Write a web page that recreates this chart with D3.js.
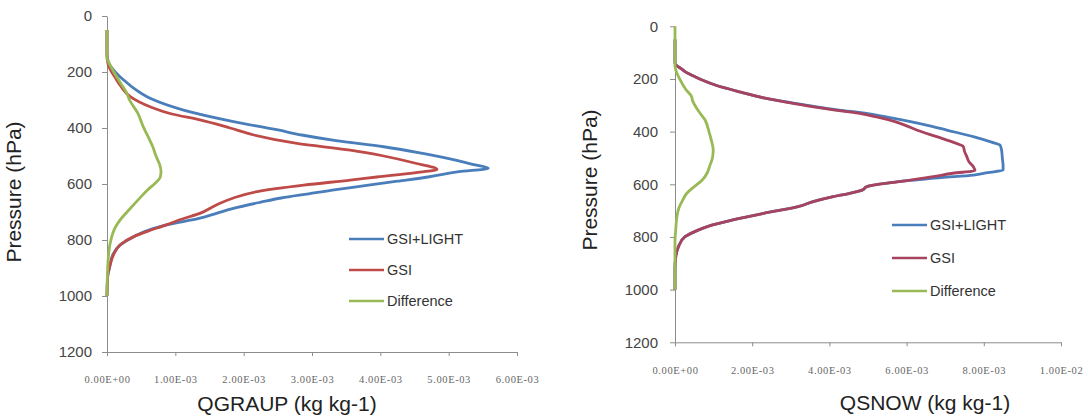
<!DOCTYPE html>
<html><head><meta charset="utf-8">
<script src="https://cdn.jsdelivr.net/npm/d3@7/dist/d3.min.js"></script>
<style>body{margin:0;background:#fff;} svg{display:block;}</style>
</head><body>
<svg id="c" width="1088" height="419"></svg>
<script>
// ---------- data ----------
const seriesNames = ["GSI+LIGHT", "GSI", "Difference"];
const pressureTicks = [0, 200, 400, 600, 800, 1000, 1200];
const graupTicks = [0, 0.001, 0.002, 0.003, 0.004, 0.005, 0.006];
const graupTickLabels = ["0.00E+00", "1.00E-03", "2.00E-03", "3.00E-03", "4.00E-03", "5.00E-03", "6.00E-03"];
const snowTicks = [0, 0.002, 0.004, 0.006, 0.008, 0.010];
const snowTickLabels = ["0.00E+00", "2.00E-03", "4.00E-03", "6.00E-03", "8.00E-03", "1.00E-02"];

// [pressure hPa, mixing ratio in 1e-3 kg/kg]
const graupLight = [[50,0],[130,0],[155,0.01],[175,0.04],[200,0.12],[217,0.19],[240,0.3],[258,0.39],[294,0.63],[336,1.12],[377,1.85],[407,2.5],[425,2.85],[445,3.35],[467,4.05],[490,4.6],[515,5.1],[530,5.35],[544,5.58],[556,5.15],[575,4.7],[590,4.25],[605,3.8],[620,3.35],[635,2.95],[650,2.55],[665,2.25],[687,1.85],[705,1.6],[722,1.36],[746,0.87],[770,0.55],[790,0.38],[818,0.19],[850,0.09],[895,0.04],[930,0.01],[1000,0]];
const graupGsi = [[50,0],[140,0],[165,0.01],[187,0.04],[220,0.12],[250,0.2],[288,0.34],[324,0.63],[350,0.95],[371,1.36],[400,1.8],[425,2.15],[455,2.78],[479,3.56],[500,4.05],[525,4.5],[548,4.83],[560,4.5],[575,3.95],[586,3.56],[604,2.88],[627,2.2],[650,1.85],[675,1.6],[705,1.36],[725,1.1],[746,0.87],[770,0.58],[788,0.39],[818,0.19],[850,0.1],[895,0.04],[930,0.01],[1000,0]];
const graupDiff = [[50,0],[130,0],[150,0],[163,0.02],[200,0.1],[240,0.2],[276,0.29],[300,0.33],[347,0.45],[395,0.53],[430,0.6],[467,0.67],[502,0.72],[530,0.77],[555,0.79],[575,0.78],[598,0.7],[620,0.6],[645,0.5],[690,0.33],[729,0.19],[760,0.11],[788,0.07],[820,0.04],[860,0.02],[900,0.01],[1000,0]];

const snowLight = [[50,0],[140,0],[150,0.05],[160,0.15],[172,0.26],[190,0.5],[205,0.72],[223,1.04],[250,1.7],[273,2.33],[290,3.0],[305,3.63],[318,4.25],[330,4.92],[345,5.5],[362,6.1],[378,6.6],[394,7.04],[420,7.75],[440,8.2],[451,8.42],[470,8.46],[500,8.48],[530,8.5],[546,8.5],[556,8.1],[565,7.73],[575,6.9],[590,5.8],[609,4.97],[622,4.85],[635,4.5],[647,4.1],[665,3.6],[685,3.19],[710,2.3],[736,1.47],[755,0.95],[774,0.6],[799,0.26],[837,0.09],[875,0.02],[920,0],[1000,0]];
const snowGsi = [[50,0],[140,0],[150,0.05],[160,0.15],[172,0.26],[190,0.5],[205,0.72],[223,1.04],[250,1.7],[273,2.33],[290,2.95],[305,3.55],[318,4.15],[330,4.75],[345,5.25],[362,5.7],[378,6.0],[394,6.26],[420,6.8],[440,7.2],[457,7.47],[475,7.5],[495,7.56],[515,7.62],[533,7.73],[548,7.77],[558,7.2],[571,6.69],[590,5.8],[609,4.97],[622,4.85],[635,4.5],[647,4.1],[665,3.6],[685,3.19],[710,2.3],[736,1.47],[755,0.95],[774,0.6],[799,0.26],[837,0.09],[875,0.02],[920,0],[1000,0]];
const snowDiff = [[0,0],[120,0],[150,0],[166,0.02],[200,0.12],[240,0.28],[267,0.43],[280,0.45],[320,0.6],[356,0.78],[400,0.88],[432,0.94],[470,0.99],[500,0.97],[530,0.9],[558,0.83],[585,0.7],[609,0.5],[635,0.3],[660,0.2],[690,0.1],[723,0.05],[770,0.02],[812,0],[1000,0]];

// ---------- drawing ----------
const svg = d3.select("#c");
const axisColor = "#8c8c8c";

const panels = [
  {x0:107, x1:517, y0:16, y1:352, xmax:0.006, xt:graupTicks, xl:graupTickLabels,
   series:[graupLight, graupGsi, graupDiff], colors:["#4a7ebb","#be4b48","#98b954"],
   title:"QGRAUP (kg kg-1)", titleX:287, titleY:411, ytX:21, ytY:192, labPad:10, xlabY:383,
   legX:349, legY:239, legDy:31},
  {x0:675, x1:1061, y0:26.3, y1:342.3, xmax:0.010, xt:snowTicks, xl:snowTickLabels,
   series:[snowLight, snowGsi, snowDiff], colors:["#4a7ebb","#a8435f","#98b954"],
   title:"QSNOW (kg kg-1)", titleX:925, titleY:410, ytX:597, ytY:180, labPad:12, xlabY:374,
   legX:892, legY:225, legDy:33}
];

panels.forEach(P => {
  const x = d3.scaleLinear().domain([0, P.xmax]).range([P.x0, P.x1]);
  const y = d3.scaleLinear().domain([0, 1200]).range([P.y0, P.y1]);
  const g = svg.append("g");

  // y axis
  const ya = g.append("g").attr("transform", `translate(${P.x0},0)`)
    .call(d3.axisLeft(y).tickValues(pressureTicks).tickFormat(d3.format("d"))
      .tickSize(5).tickSizeOuter(0).tickPadding(P.labPad));
  ya.select(".domain").attr("stroke", axisColor);
  ya.selectAll(".tick line").attr("stroke", axisColor);
  ya.selectAll(".tick text").attr("font-family", "Liberation Sans, Arial, sans-serif")
    .attr("font-size", 15).attr("fill", "#444");

  // x axis
  const xa = g.append("g").attr("transform", `translate(0,${P.y1})`)
    .call(d3.axisBottom(x).tickValues(P.xt).tickSize(4).tickSizeOuter(0)
      .tickFormat((d, i) => P.xl[i]));
  xa.select(".domain").attr("stroke", axisColor);
  xa.selectAll(".tick line").attr("stroke", axisColor);
  xa.selectAll(".tick text").attr("font-family", "Liberation Serif, Times New Roman, serif")
    .attr("font-size", 10.5).attr("letter-spacing", "0.6px").attr("fill", "#666")
    .attr("y", null).attr("dy", null)
    .attr("transform", `translate(0,${P.xlabY - P.y1})`);

  // lines
  const line = d3.line().x(d => x(d[1] / 1000)).y(d => y(d[0])).curve(d3.curveMonotoneY);
  P.series.forEach((s, i) => {
    g.append("path").datum(s).attr("d", line).attr("fill", "none")
      .attr("stroke", P.colors[i]).attr("stroke-width", 2.8).attr("stroke-linejoin", "round");
  });

  // legend
  seriesNames.forEach((n, i) => {
    const ly = P.legY + i * P.legDy;
    g.append("line").attr("x1", P.legX).attr("x2", P.legX + 35).attr("y1", ly).attr("y2", ly)
      .attr("stroke", P.colors[i]).attr("stroke-width", 2.6);
    g.append("text").attr("x", P.legX + 38).attr("y", ly + 5).text(n)
      .attr("font-family", "Liberation Sans Narrow, Arial Narrow, Liberation Sans, sans-serif")
      .attr("font-size", 14.5).attr("fill", "#333");
  });

  // titles
  g.append("text").attr("x", P.titleX).attr("y", P.titleY).attr("text-anchor", "middle")
    .attr("font-family", "Liberation Sans, Arial, sans-serif").attr("font-size", 21)
    .attr("fill", "#222").text(P.title);
  g.append("text").attr("transform", `translate(${P.ytX},${P.ytY}) rotate(-90)`)
    .attr("text-anchor", "middle").attr("font-family", "Liberation Sans, Arial, sans-serif")
    .attr("font-size", 21).attr("fill", "#222").text("Pressure (hPa)");
});
</script>
</body></html>
